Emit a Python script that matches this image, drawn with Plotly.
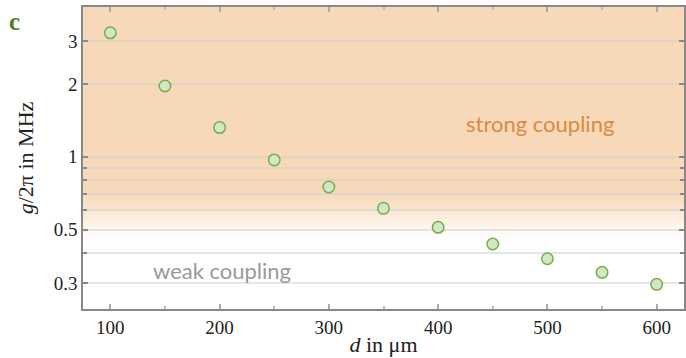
import numpy as np
import plotly.graph_objects as go

# Data
d_um = [100, 150, 200, 250, 300, 350, 400, 450, 500, 550, 600]
g_mhz = [3.25, 1.96, 1.32, 0.97, 0.75, 0.612, 0.511, 0.436, 0.379, 0.333, 0.297]
y_major = [0.3, 0.5, 1, 2, 3]
y_minor = [0.4, 0.6, 0.7, 0.8, 0.9]
x_ticks = [100, 200, 300, 400, 500, 600]

W, H = 686, 358
ML, MR, MT, MB = 83, 0, 7, 49
ylog_lo, ylog_hi = -0.629, 0.6186
x_lo, x_hi = 75, 625

ORANGE = (247, 217, 185)

def paper_y(v):
    return (np.log10(v) - ylog_lo) / (ylog_hi - ylog_lo)

fig = go.Figure()

# background gradient (strong -> weak coupling region)
shapes = []
top_full = paper_y(0.74)
bot_white = paper_y(0.43)
shapes.append(dict(type="rect", xref="paper", yref="paper", x0=0, x1=1, y0=top_full, y1=1,
                   fillcolor="rgb(%d,%d,%d)" % ORANGE, line=dict(width=0), layer="below"))
n = 40
for i in range(n):
    y0 = bot_white + (top_full - bot_white) * i / n
    y1 = bot_white + (top_full - bot_white) * (i + 1) / n
    t = (i + 0.5) / n
    a = t * t * (3 - 2 * t)
    col = tuple(int(round(255 + (c - 255) * a)) for c in ORANGE)
    shapes.append(dict(type="rect", xref="paper", yref="paper", x0=0, x1=1, y0=y0, y1=y1 + 0.001,
                       fillcolor="rgb(%d,%d,%d)" % col, line=dict(width=0), layer="below"))

fig.add_trace(go.Scatter(
    x=d_um, y=g_mhz, mode="markers",
    marker=dict(size=11.5, color="#D3E6C5", line=dict(color="#74AE46", width=1.5)),
    showlegend=False, cliponaxis=False,
))

serif = "Liberation Serif"
GRID = "rgba(205,205,205,0.5)"
fig.update_layout(
    width=W, height=H,
    margin=dict(l=ML, r=MR, t=MT, b=MB),
    paper_bgcolor="white", plot_bgcolor="rgba(0,0,0,0)",
    shapes=shapes,
    font=dict(family=serif, size=19, color="#222"),
    xaxis=dict(
        range=[x_lo, x_hi], tickvals=x_ticks, ticks="inside", ticklen=5, tickwidth=1.5,
        tickcolor="#aaa", showline=True, linecolor="#888", linewidth=1.5, mirror="ticks",
        showgrid=False, zeroline=False,
        minor=dict(dtick=50, tick0=0, ticks="inside", ticklen=3.5, tickwidth=1.5, tickcolor="#bbb"),
        tickfont=dict(family=serif, size=19, color="#222"),
        title=dict(text="<i>d</i> in μm", font=dict(family=serif, size=22, color="#222"), standoff=0),
    ),
    yaxis=dict(
        type="log", range=[ylog_lo, ylog_hi], tickvals=y_major, ticktext=["0.3", "0.5", "1", "2", "3"],
        ticks="inside", ticklen=5, tickwidth=1.5, tickcolor="#888",
        showline=True, linecolor="#888", linewidth=1.5, mirror="ticks",
        showgrid=True, gridcolor=GRID, gridwidth=1.5, zeroline=False,
        minor=dict(tickvals=y_minor, ticks="inside", ticklen=4, tickwidth=1.5, tickcolor="#888",
                   showgrid=True, gridcolor=GRID, gridwidth=1.5),
        tickfont=dict(family=serif, size=19, color="#222"),
        title=dict(text="<i>g</i>/2π in MHz", font=dict(family=serif, size=22, color="#222"), standoff=14),
    ),
    annotations=[
        dict(text="strong coupling", xref="paper", yref="paper", x=0.7597, y=0.6126,
             xanchor="center", yanchor="middle",
             showarrow=False, font=dict(family="Lato", size=22, color="#D78B42")),
        dict(text="weak coupling", xref="paper", yref="paper", x=0.2309, y=0.129,
             xanchor="center", yanchor="middle",
             showarrow=False, font=dict(family="Lato", size=22, color="#999999")),
        dict(text="<b>c</b>", xref="paper", yref="paper", x=-0.11, y=1.0, xanchor="center", yanchor="middle",
             xshift=-2, yshift=-14,
             showarrow=False, font=dict(family=serif, size=25, color="#4E7D1E")),
    ],
)

fig.write_html("out.html")
